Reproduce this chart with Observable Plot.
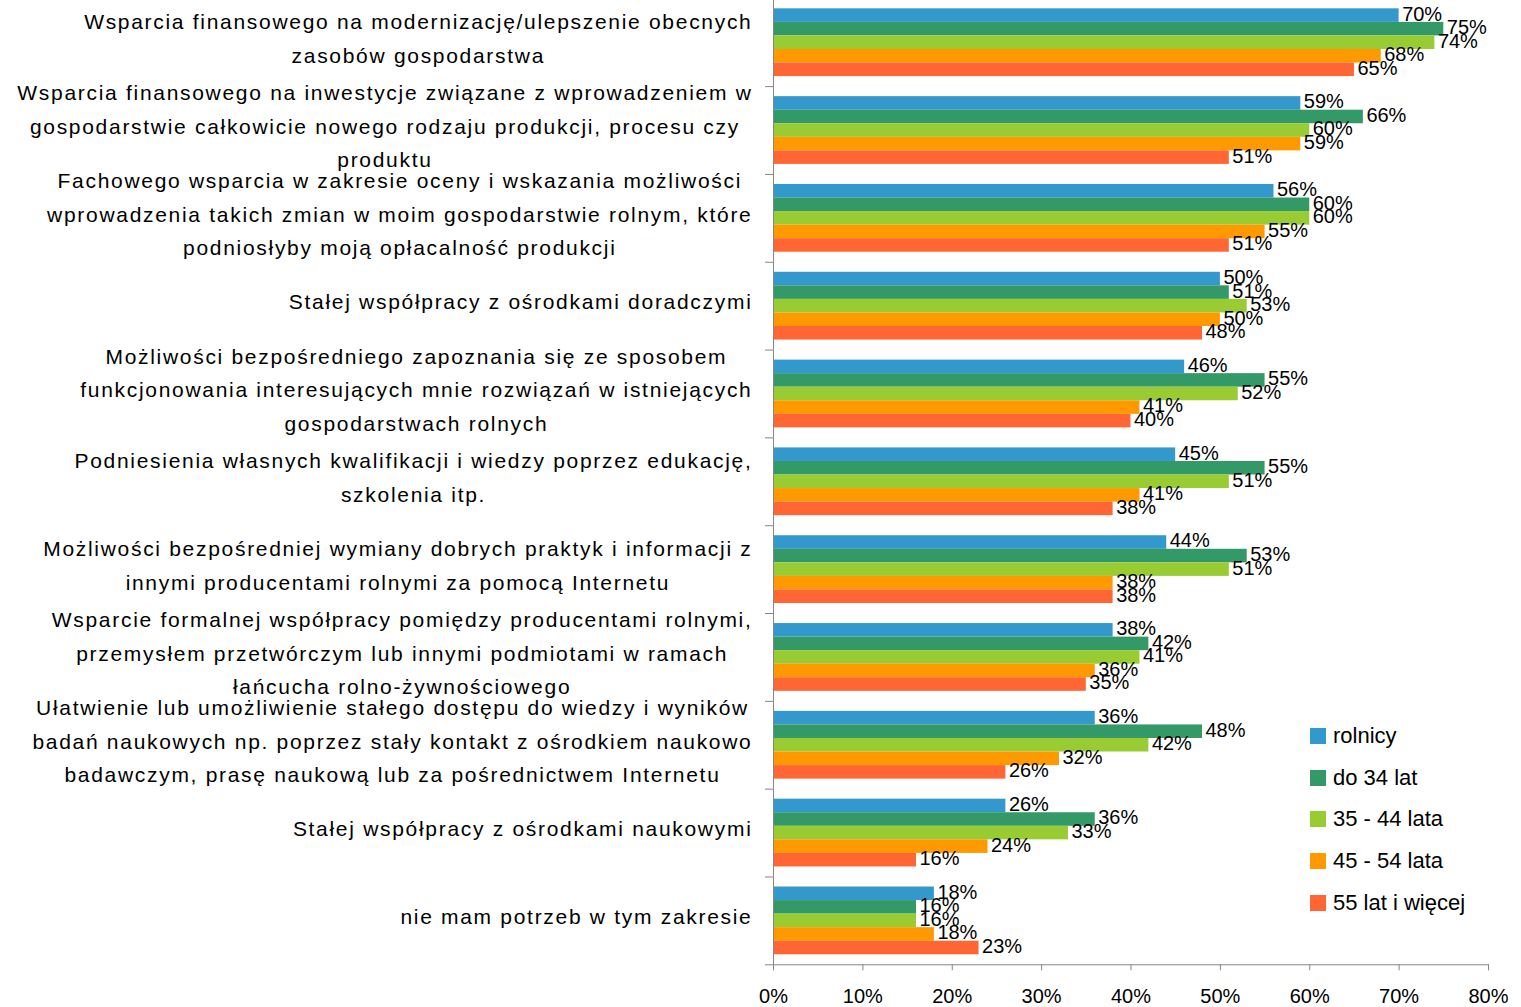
<!DOCTYPE html>
<html><head><meta charset="utf-8">
<script src="https://cdn.jsdelivr.net/npm/d3@7"></script>
<script src="https://cdn.jsdelivr.net/npm/@observablehq/plot@0.6"></script>
<style>
body{margin:0;background:#fff;font-family:"Liberation Sans",Arial,sans-serif;}
#chart{position:relative;width:1521px;height:1007px;overflow:hidden;}
#legend{position:absolute;left:1310px;top:715px;}
.li{display:flex;align-items:center;height:41.75px;font-size:22px;color:#000;white-space:nowrap}
.sw{width:16px;height:16px;margin-right:7px;flex:none}
</style></head><body><div id="chart"></div>
<script>
const categoryLines = [
  ["Wsparcia finansowego na modernizację/ulepszenie obecnych", "zasobów gospodarstwa"],
  ["Wsparcia finansowego na inwestycje związane z wprowadzeniem w", "gospodarstwie całkowicie nowego rodzaju produkcji, procesu czy", "produktu"],
  ["Fachowego wsparcia w zakresie oceny i wskazania możliwości", "wprowadzenia takich zmian w moim gospodarstwie rolnym, które", "podniosłyby moją opłacalność produkcji"],
  ["Stałej współpracy z ośrodkami doradczymi"],
  ["Możliwości bezpośredniego zapoznania się ze sposobem", "funkcjonowania interesujących mnie rozwiązań w istniejących", "gospodarstwach rolnych"],
  ["Podniesienia własnych kwalifikacji i wiedzy poprzez edukację,", "szkolenia itp."],
  ["Możliwości bezpośredniej wymiany dobrych praktyk i informacji z", "innymi producentami rolnymi za pomocą Internetu"],
  ["Wsparcie formalnej współpracy pomiędzy producentami rolnymi,", "przemysłem przetwórczym lub innymi podmiotami w ramach", "łańcucha rolno-żywnościowego"],
  ["Ułatwienie lub umożliwienie stałego dostępu do wiedzy i wyników", "badań naukowych np. poprzez stały kontakt z ośrodkiem naukowo", "badawczym, prasę naukową lub za pośrednictwem Internetu"],
  ["Stałej współpracy z ośrodkami naukowymi"],
  ["nie mam potrzeb w tym zakresie"]
];
const categories = categoryLines.map(l => l.join(" "));

const seriesNames = ["rolnicy", "do 34 lat", "35 - 44 lata", "45 - 54 lata", "55 lat i więcej"];
const seriesColors = ["#3399CC", "#339966", "#99CC33", "#FF9900", "#FF6633"];

const rolnicy   = [70, 59, 56, 50, 46, 45, 44, 38, 36, 26, 18];
const do34      = [75, 66, 60, 51, 55, 55, 53, 42, 48, 36, 16];
const lata35_44 = [74, 60, 60, 53, 52, 51, 51, 41, 42, 33, 16];
const lata45_54 = [68, 59, 55, 50, 41, 41, 38, 36, 32, 24, 18];
const lata55    = [65, 51, 51, 48, 40, 38, 38, 35, 26, 16, 23];
const seriesValues = [rolnicy, do34, lata35_44, lata45_54, lata55];

const xTicks = [0, 10, 20, 30, 40, 50, 60, 70, 80];
const xTickLabels = ["0%", "10%", "20%", "30%", "40%", "50%", "60%", "70%", "80%"];

const rows = [];
categories.forEach((c, i) => seriesNames.forEach((s, j) => rows.push({category: c, series: s, value: seriesValues[j][i]})));

const W = 1521, H = 1007, mTop = -1.7, mBottom = 42.7, mLeft = 773, mRight = 33;
const halfStep = (H - mTop - mBottom) / categories.length / 2;
const linesOf = new Map(categories.map((c, i) => [c, categoryLines[i].join("\n")]));
const labelKeys = new Set(categoryLines.map(l => l.join("")));
const axisGray = "#868686";

const plot = Plot.plot({
  width: W, height: H,
  marginTop: mTop, marginBottom: mBottom, marginLeft: mLeft, marginRight: mRight,
  style: {fontFamily: '"Liberation Sans", Arial, sans-serif', background: "#fff", color: "#000", overflow: "visible"},
  fy: {domain: categories, padding: 0, label: null, round: false},
  y: {domain: seriesNames, axis: null, paddingInner: 0, paddingOuter: 0.74, round: false},
  x: {domain: [0, 80], label: null},
  color: {domain: seriesNames, range: seriesColors},
  marks: [
    Plot.barX(rows, {x: "value", y: "series", fy: "category", fill: "series"}),
    Plot.text(rows, {x: "value", y: "series", fy: "category", text: d => d.value + "%", textAnchor: "start", dx: 3, dy: -1.5, fontSize: 20, fill: "#000"}),
    Plot.ruleX([0], {stroke: axisGray}),
    Plot.frame({anchor: "bottom", facetAnchor: "bottom", stroke: axisGray}),
    Plot.axisX({ticks: xTicks, tickFormat: d => xTickLabels[xTicks.indexOf(d)], tickSize: 6, tickPadding: 18, fontSize: 20, stroke: axisGray, fill: "#000", label: null}),
    Plot.axisFy({anchor: "left", tickSize: 8, fill: "none", stroke: axisGray, dy: halfStep, label: null}),
    Plot.axisFy({anchor: "left", tickSize: 0, tickPadding: 21, tickFormat: c => linesOf.get(c), fontSize: 21, lineHeight: 1.6, dy: -7.5, fill: "#000", label: null})
  ]
});

const chart = document.getElementById("chart");
chart.appendChild(plot);

// category labels: Excel-like wide letter spacing, lines centered within a right-aligned block
plot.querySelectorAll("text").forEach(t => {
  if (!labelKeys.has(t.textContent)) return;
  t.style.letterSpacing = "1.7px";
  const spans = t.querySelectorAll("tspan");
  if (spans.length > 1) {
    let w = 0;
    spans.forEach(s => { w = Math.max(w, s.getComputedTextLength()); });
    t.setAttribute("text-anchor", "middle");
    spans.forEach(s => s.setAttribute("x", -w / 2));
  }
});

const legend = document.createElement("div");
legend.id = "legend";
seriesNames.forEach((s, j) => {
  const it = document.createElement("div");
  it.className = "li";
  const sw = document.createElement("span");
  sw.className = "sw";
  sw.style.background = seriesColors[j];
  it.appendChild(sw);
  it.appendChild(document.createTextNode(s));
  legend.appendChild(it);
});
chart.appendChild(legend);
</script></body></html>
